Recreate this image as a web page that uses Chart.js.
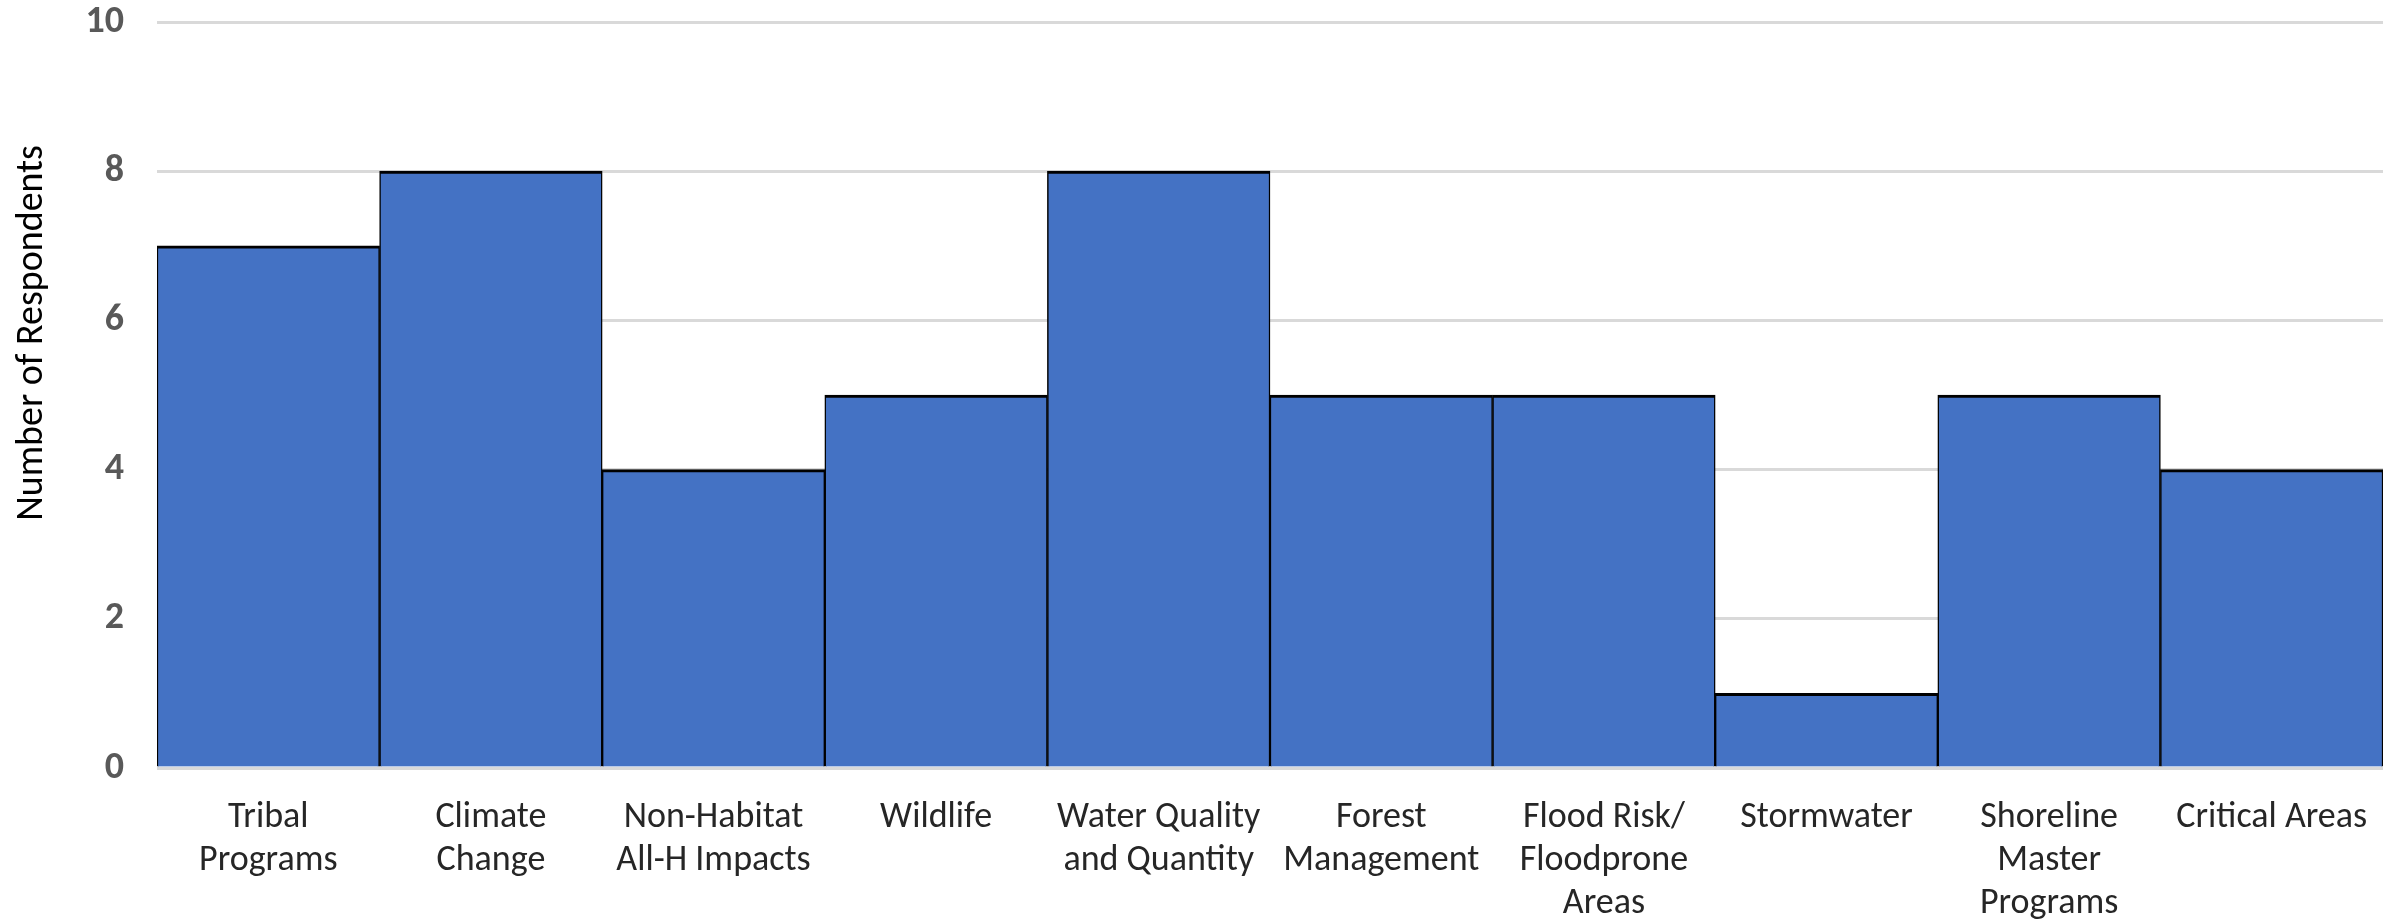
<!DOCTYPE html>
<html>
<head>
<meta charset="utf-8">
<script src="https://cdn.jsdelivr.net/npm/chart.js@4"></script>
<style>
  html, body { margin: 0; padding: 0; background: #ffffff; }
  #wrap { width: 2402px; height: 922px; }
</style>
</head>
<body>
<div id="wrap"><canvas id="c" width="2402" height="922"></canvas></div>
<script>
// Topics of interest and how many respondents picked each one
const categories = [
  ["Tribal", "Programs"],
  ["Climate", "Change"],
  ["Non-Habitat", "All-H Impacts"],
  ["Wildlife"],
  ["Water Quality", "and Quantity"],
  ["Forest", "Management"],
  ["Flood Risk/", "Floodprone", "Areas"],
  ["Stormwater"],
  ["Shoreline", "Master", "Programs"],
  ["Critical Areas"]
];
const respondents = [7, 8, 4, 5, 8, 5, 5, 1, 5, 4];
const yTicks = [0, 2, 4, 6, 8, 10];
const yTitle = "Number of Respondents";

const FONT = "Carlito, Calibri, Lato, 'Open Sans', sans-serif";

// Rotated y-axis title, sitting a little above the middle of the plot
const yTitlePlugin = {
  id: "yTitle",
  afterDraw(chart) {
    const { ctx, chartArea } = chart;
    const cy = (chartArea.top + chartArea.bottom) / 2 - 62;
    ctx.save();
    ctx.translate(32, cy);
    ctx.rotate(-Math.PI / 2);
    ctx.font = "38px " + FONT;
    ctx.fillStyle = "#000000";
    ctx.textAlign = "center";
    ctx.textBaseline = "middle";
    ctx.fillText(yTitle, 0, 0);
    ctx.restore();
  }
};

new Chart(document.getElementById("c"), {
  type: "bar",
  data: {
    labels: categories,
    datasets: [{
      data: respondents,
      backgroundColor: "#4472C4",
      borderColor: "#000000",
      borderWidth: { top: 3, left: 1.5, right: 1.5, bottom: 0 },
      borderSkipped: false,
      barPercentage: 1,
      categoryPercentage: 1
    }]
  },
  plugins: [yTitlePlugin],
  options: {
    responsive: false,
    animation: false,
    devicePixelRatio: 1,
    layout: { padding: { left: 11, right: 19, top: 22, bottom: 0 } },
    plugins: {
      legend: { display: false },
      tooltip: { enabled: false }
    },
    scales: {
      x: {
        grid: { display: false, drawTicks: false },
        border: { display: false },
        ticks: {
          autoSkip: false,
          maxRotation: 0,
          minRotation: 0,
          padding: 28,
          color: "#262626",
          font: { family: FONT, size: 36, lineHeight: 1.2 }
        },
        afterFit: (s) => {
          s.height = 154;
          s.paddingLeft = 0; s.paddingRight = 0;
          s.paddingTop = 0; s.paddingBottom = 0;
        }
      },
      y: {
        min: 0,
        max: 10,
        afterBuildTicks: (s) => { s.ticks = yTicks.map(v => ({ value: v })); },
        grid: { color: "#D9D9D9", lineWidth: 3, drawTicks: false },
        border: { display: false },
        ticks: {
          padding: 33,
          color: "#595959",
          font: { family: FONT, size: 38, weight: "bold" }
        },
        title: { display: false },
        afterFit: (s) => {
          s.width = 146;
          s.paddingTop = 0; s.paddingBottom = 0;
          s.paddingLeft = 0; s.paddingRight = 0;
        }
      }
    }
  }
});
</script>
</body>
</html>
